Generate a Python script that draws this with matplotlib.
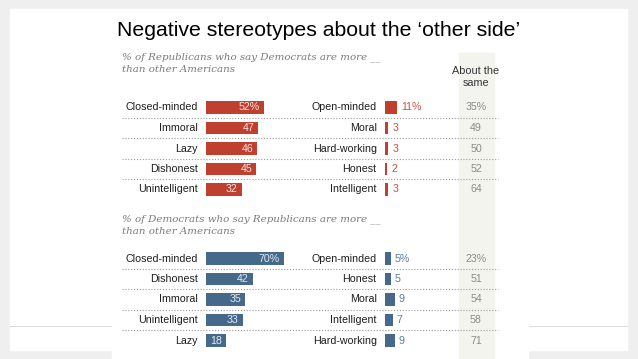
import matplotlib

matplotlib.use("Agg")
import matplotlib.pyplot as plt
from matplotlib.patches import Rectangle


W, H = 638, 359

REP_NEG = ["Closed-minded", "Immoral", "Lazy", "Dishonest", "Unintelligent"]
REP_NEG_VALUES = [52, 47, 46, 45, 32]
REP_POS = ["Open-minded", "Moral", "Hard-working", "Honest", "Intelligent"]
REP_POS_VALUES = [11, 3, 3, 2, 3]
REP_SAME = [35, 49, 50, 52, 64]

DEM_NEG = ["Closed-minded", "Dishonest", "Immoral", "Unintelligent", "Lazy"]
DEM_NEG_VALUES = [70, 42, 35, 33, 18]
DEM_POS = ["Open-minded", "Honest", "Moral", "Intelligent", "Hard-working"]
DEM_POS_VALUES = [5, 5, 9, 7, 9]
DEM_SAME = [23, 51, 54, 58, 71]

RED = "#C0402F"
RED_TEXT = "#C9503E"
BLUE = "#46698A"
BLUE_TEXT = "#5A7D9C"
LABEL_FONT = ["Liberation Sans", "DejaVu Sans"]

# layout in pixels
PX_PER_PCT = 1.11
LEFT_X0 = 206
RIGHT_X0 = 385
SAME_X = 476
ROW_H = 20.5
SEP_X = (122, 498)


def fig_box(x, y_top, w, h):
    return [x / W, 1 - (y_top + h) / H, w / W, h / H]


def draw_panel(fig, bg, top, sub_y, subtitle, neg, neg_vals, pos, pos_vals, same,
               color, text_color):
    n = len(neg)
    bg.text(122, sub_y, subtitle, fontsize=7.4, family="DejaVu Serif",
            style="italic", color="#7a7a7a", va="top", linespacing=1.5)

    for i in range(1, n):
        y = top + i * ROW_H
        bg.plot(SEP_X, (y, y), color="#9a9a9a", lw=0.8, ls=(0, (1, 1.6)), zorder=2)

    width_px = 100 * PX_PER_PCT
    ax_l = fig.add_axes(fig_box(LEFT_X0, top, width_px, n * ROW_H))
    ax_r = fig.add_axes(fig_box(RIGHT_X0, top, width_px, n * ROW_H))
    rows = list(range(n))
    for ax in (ax_l, ax_r):
        ax.set_xlim(0, 100)
        ax.set_ylim(n - 0.5, -0.5)
        ax.axis("off")
        ax.patch.set_alpha(0)

    ax_l.barh(rows, neg_vals, height=0.6, color=color, edgecolor="none")
    ax_r.barh(rows, pos_vals, height=0.6, color=color, edgecolor="none")

    lab_off = 7.5
    for i, (lab, v) in enumerate(zip(neg, neg_vals)):
        ax_l.text(-lab_off, i, lab, ha="right", va="center", fontsize=7.7,
                  family=LABEL_FONT, color="#1e1e1e")
        txt = f"{v}%" if i == 0 else str(v)
        ax_l.text(v - 3.5, i, txt, ha="right", va="center", fontsize=7.7,
                  family=LABEL_FONT, color="#f6e6e2" if color == RED else "#e3eaf1")
    for i, (lab, v) in enumerate(zip(pos, pos_vals)):
        ax_r.text(-lab_off, i, lab, ha="right", va="center", fontsize=7.7,
                  family=LABEL_FONT, color="#1e1e1e")
        txt = f"{v}%" if i == 0 else str(v)
        ax_r.text(v + 3.5, i, txt, ha="left", va="center", fontsize=7.7,
                  family=LABEL_FONT, color=text_color)
    same_x = (SAME_X - RIGHT_X0) / PX_PER_PCT
    for i, v in enumerate(same):
        txt = f"{v}%" if i == 0 else str(v)
        ax_r.text(same_x, i, txt, ha="center", va="center", fontsize=7.7,
                  family=LABEL_FONT, color="#8a8a8a")


def main():
    fig = plt.figure(figsize=(W / 100, H / 100), dpi=100)
    fig.patch.set_facecolor("#efefef")
    bg = fig.add_axes([0, 0, 1, 1])
    bg.set_xlim(0, W)
    bg.set_ylim(H, 0)
    bg.axis("off")

    # slide and embedded picture
    bg.add_patch(Rectangle((10, 9), 617, 341, color="white", zorder=0))
    bg.plot((10, 627), (326, 326), color="#dcdcdc", lw=0.8, zorder=0.5)
    bg.add_patch(Rectangle((112, 45), 416, H - 45, color="white", zorder=1))
    bg.add_patch(Rectangle((459, 53), 35, H - 53, color="#f4f4ef", zorder=1.5))

    bg.text(319, 31, "Negative stereotypes about the \u2018other side\u2019",
            fontsize=15.3, family="Liberation Sans", ha="center", va="center",
            color="black")
    bg.text(SAME_X, 77, "About the\nsame", fontsize=7.8, family=LABEL_FONT,
            ha="center", va="center", color="#333333", linespacing=1.15)

    draw_panel(fig, bg, 97.25, 52,
               "% of Republicans who say Democrats are more __\nthan other Americans",
               REP_NEG, REP_NEG_VALUES, REP_POS, REP_POS_VALUES, REP_SAME,
               RED, RED_TEXT)
    draw_panel(fig, bg, 248.25, 214,
               "% of Democrats who say Republicans are more __\nthan other Americans",
               DEM_NEG, DEM_NEG_VALUES, DEM_POS, DEM_POS_VALUES, DEM_SAME,
               BLUE, BLUE_TEXT)

    fig.savefig("out.png", dpi=100, facecolor=fig.get_facecolor())
    plt.close(fig)


if __name__ == "__main__":
    main()
